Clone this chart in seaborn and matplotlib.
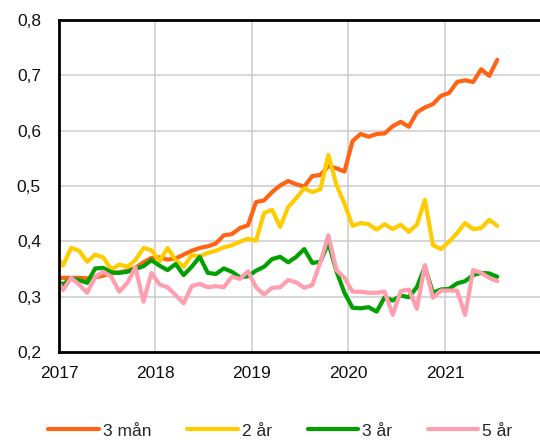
import numpy as np
import pandas as pd
import matplotlib
matplotlib.use("Agg")
import matplotlib.pyplot as plt
import seaborn as sns

# monthly observations, Dec 2016 .. Jul 2021 (first point is clipped by the axis)
series_names = ["3 mån", "2 år", "3 år", "5 år"]

three_months = [
    0.334,
    0.334, 0.334, 0.334, 0.333, 0.335, 0.338, 0.342, 0.344, 0.347, 0.352, 0.362, 0.370,
    0.371, 0.367, 0.369, 0.376, 0.383, 0.388, 0.391, 0.396, 0.411, 0.413, 0.424, 0.429,
    0.471, 0.474, 0.489, 0.501, 0.509, 0.503, 0.499, 0.518, 0.520, 0.536, 0.532, 0.526,
    0.581, 0.594, 0.589, 0.594, 0.595, 0.608, 0.616, 0.607, 0.633, 0.642, 0.648, 0.663,
    0.668, 0.688, 0.691, 0.688, 0.711, 0.699, 0.728,
]
two_years = [
    0.377,
    0.356, 0.388, 0.383, 0.363, 0.376, 0.371, 0.349, 0.358, 0.354, 0.366, 0.388, 0.384,
    0.364, 0.388, 0.366, 0.354, 0.375, 0.373, 0.379, 0.383, 0.389, 0.393, 0.399, 0.405,
    0.401, 0.451, 0.457, 0.426, 0.462, 0.478, 0.496, 0.489, 0.494, 0.556, 0.502, 0.468,
    0.428, 0.433, 0.431, 0.421, 0.431, 0.422, 0.430, 0.417, 0.430, 0.475, 0.393, 0.386,
    0.399, 0.415, 0.433, 0.422, 0.424, 0.439, 0.428,
]
three_years = [
    0.330,
    0.322, 0.333, 0.330, 0.325, 0.351, 0.352, 0.344, 0.343, 0.345, 0.350, 0.355, 0.366,
    0.356, 0.348, 0.359, 0.339, 0.354, 0.372, 0.343, 0.341, 0.351, 0.345, 0.335, 0.337,
    0.347, 0.354, 0.368, 0.372, 0.362, 0.372, 0.386, 0.361, 0.363, 0.397, 0.346, 0.307,
    0.280, 0.279, 0.281, 0.273, 0.299, 0.293, 0.302, 0.299, 0.317, 0.354, 0.307, 0.313,
    0.314, 0.324, 0.328, 0.339, 0.343, 0.342, 0.336,
]
five_years = [
    0.335,
    0.312, 0.334, 0.322, 0.307, 0.336, 0.345, 0.336, 0.309, 0.325, 0.353, 0.291, 0.343,
    0.322, 0.317, 0.303, 0.288, 0.319, 0.323, 0.317, 0.319, 0.317, 0.336, 0.332, 0.346,
    0.317, 0.304, 0.316, 0.317, 0.330, 0.326, 0.316, 0.321, 0.362, 0.411, 0.348, 0.334,
    0.309, 0.309, 0.307, 0.307, 0.309, 0.267, 0.310, 0.313, 0.278, 0.357, 0.298, 0.311,
    0.311, 0.311, 0.267, 0.348, 0.343, 0.334, 0.328,
]

year_ticks = [2017, 2018, 2019, 2020, 2021]
y_ticks = [0.2, 0.3, 0.4, 0.5, 0.6, 0.7, 0.8]
colors = ["#ff6414", "#ffcc00", "#00a000", "#ff9eae"]

# mid-month positions in decimal years
n = len(three_months)
months = 2017 + (np.arange(n) - 1 + 0.5) / 12

df = pd.DataFrame({
    "tid": np.tile(months, 4),
    "ränta": three_months + two_years + three_years + five_years,
    "serie": np.repeat(series_names, n),
})

sns.set_style("white")
plt.rcParams["font.family"] = ["Liberation Sans", "DejaVu Sans"]

fig = plt.figure(figsize=(5.4, 4.42), dpi=100)
ax = fig.add_axes([59 / 540, 90 / 442, 482.5 / 540, 332 / 442])

sns.lineplot(data=df, x="tid", y="ränta", hue="serie", hue_order=series_names,
             palette=colors, linewidth=3.0, ax=ax, legend=False)

ax.set_xlim(2017, 2022)
ax.set_ylim(0.2, 0.8)
ax.set_xticks(year_ticks)
ax.set_xticklabels([str(y) for y in year_ticks])
ax.set_yticks(y_ticks)
ax.set_yticklabels([f"{v:.1f}".replace(".", ",") for v in y_ticks])
ax.set_xlabel("")
ax.set_ylabel("")
ax.grid(True, color="#cccccc", linewidth=1.1)
ax.set_axisbelow(True)
ax.tick_params(length=0, labelsize=12.5, colors="#111111")
ax.tick_params(axis="y", pad=13)
ax.tick_params(axis="x", pad=10)
for side in ["left", "top", "bottom"]:
    ax.spines[side].set_color("black")
    ax.spines[side].set_linewidth(2.0)
ax.spines["right"].set_visible(False)

handles = ax.get_lines()[:4]
fig.legend(handles, series_names, loc="lower left", bbox_to_anchor=(45 / 540, 0.0),
           ncol=4, frameon=False, fontsize=12.5, handlelength=2.9,
           handletextpad=0.25, columnspacing=2.05, borderpad=0.2, borderaxespad=0)

fig.savefig("out.png", dpi=100)
